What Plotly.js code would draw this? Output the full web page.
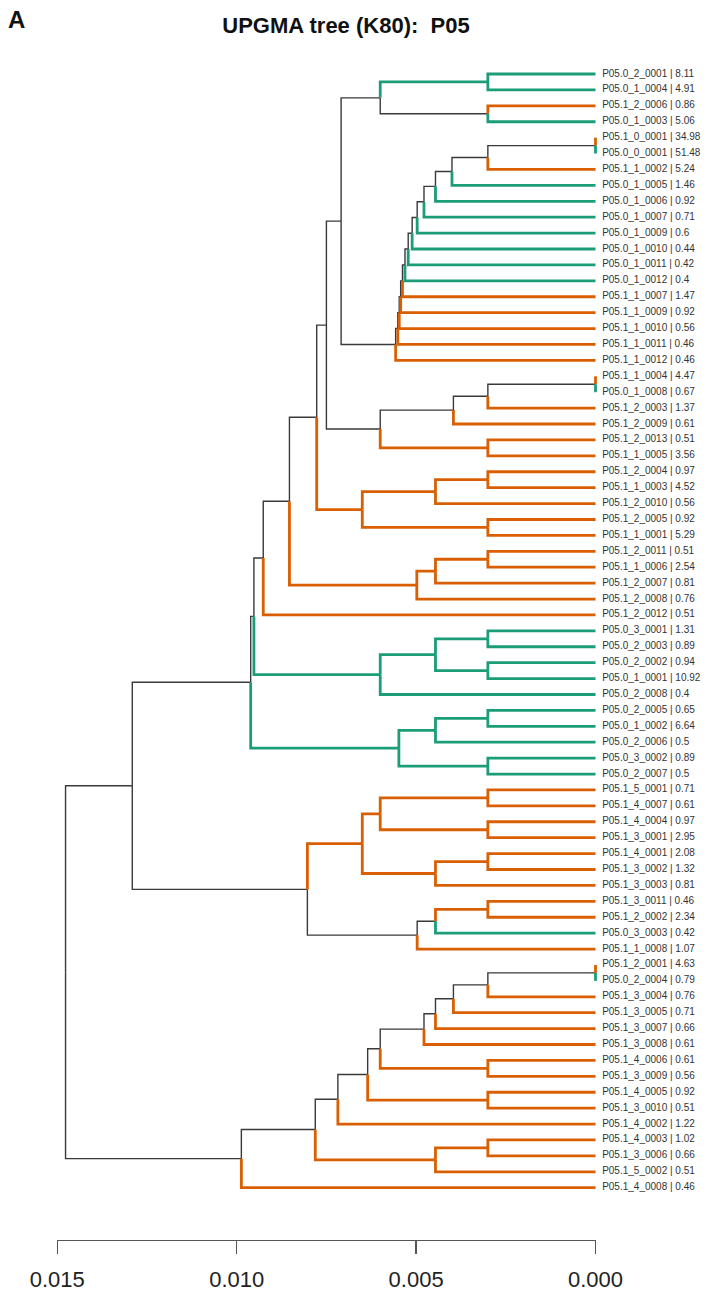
<!DOCTYPE html>
<html>
<head>
<meta charset="utf-8">
<script src="https://cdn.plot.ly/plotly-3.0.1.min.js"></script>
<style>html,body{margin:0;padding:0;background:#fff;}#chart{width:725px;height:1296px;}</style>
</head>
<body>
<div id="chart"></div>
<script>
// ---- Data ----
const sampleIds = [
 "P05.0_2_0001","P05.0_1_0004","P05.1_2_0006","P05.0_1_0003","P05.1_0_0001","P05.0_0_0001","P05.1_1_0002",
 "P05.0_1_0005","P05.0_1_0006","P05.0_1_0007","P05.0_1_0009","P05.0_1_0010","P05.0_1_0011","P05.0_1_0012",
 "P05.1_1_0007","P05.1_1_0009","P05.1_1_0010","P05.1_1_0011","P05.1_1_0012","P05.1_1_0004","P05.0_1_0008",
 "P05.1_2_0003","P05.1_2_0009","P05.1_2_0013","P05.1_1_0005","P05.1_2_0004","P05.1_1_0003","P05.1_2_0010",
 "P05.1_2_0005","P05.1_1_0001","P05.1_2_0011","P05.1_1_0006","P05.1_2_0007","P05.1_2_0008","P05.1_2_0012",
 "P05.0_3_0001","P05.0_2_0003","P05.0_2_0002","P05.0_1_0001","P05.0_2_0008","P05.0_2_0005","P05.0_1_0002",
 "P05.0_2_0006","P05.0_3_0002","P05.0_2_0007","P05.1_5_0001","P05.1_4_0007","P05.1_4_0004","P05.1_3_0001",
 "P05.1_4_0001","P05.1_3_0002","P05.1_3_0003","P05.1_3_0011","P05.1_2_0002","P05.0_3_0003","P05.1_1_0008",
 "P05.1_2_0001","P05.0_2_0004","P05.1_3_0004","P05.1_3_0005","P05.1_3_0007","P05.1_3_0008","P05.1_4_0006",
 "P05.1_3_0009","P05.1_4_0005","P05.1_3_0010","P05.1_4_0002","P05.1_4_0003","P05.1_3_0006","P05.1_5_0002",
 "P05.1_4_0008"
];
const abundance = [
 "8.11","4.91","0.86","5.06","34.98","51.48","5.24",
 "1.46","0.92","0.71","0.6","0.44","0.42","0.4",
 "1.47","0.92","0.56","0.46","0.46","4.47","0.67",
 "1.37","0.61","0.51","3.56","0.97","4.52","0.56",
 "0.92","5.29","0.51","2.54","0.81","0.76","0.51",
 "1.31","0.89","0.94","10.92","0.4","0.65","6.64",
 "0.5","0.89","0.5","0.71","0.61","0.97","2.95",
 "2.08","1.32","0.81","0.46","2.34","0.42","1.07",
 "4.63","0.79","0.76","0.71","0.66","0.61","0.61",
 "0.56","0.92","0.51","1.22","1.02","0.66","0.51",
 "0.46"
];
// hclust-style merges: negative = leaf (1-based order above), positive = earlier merge row (1-based)
const mergeA = [-1,-3,1,-5,4,5,6,7,8,9,10,11,12,13,14,15,16,3,-20,19,20,-24,21,18,-26,25,-29,26,24,-31,30,31,29,33,-36,-38,35,37,34,-41,40,-44,41,39,-46,-48,45,-50,48,47,-53,51,52,50,44,-57,56,57,58,59,-63,60,-65,62,64,-68,66,65,68,55];
const mergeB = [-2,-4,2,-6,-7,-8,-9,-10,-11,-12,-13,-14,-15,-16,-17,-18,-19,17,-21,-22,-23,-25,22,23,-27,-28,-30,27,28,-32,-33,-34,32,-35,-37,-39,36,-40,38,-42,-43,-45,42,43,-47,-49,46,-51,-52,49,-54,-55,-56,53,54,-58,-59,-60,-61,-62,-64,61,-66,63,-67,-69,-70,67,-71,69];
const mergeHeight = [0.0030,0.0030,0.0060,0.0000,0.0030,0.0040,0.00446,0.00478,0.00497,0.00511,0.00522,0.00531,0.00538,0.00543,0.00547,0.00551,0.00557,0.00709,0.0000,0.0030,0.00396,0.0030,0.0060,0.0075,0.0030,0.00446,0.0030,0.0065,0.00777,0.0030,0.00446,0.00498,0.00853,0.00926,0.0030,0.0030,0.00446,0.0060,0.00952,0.0030,0.00446,0.0030,0.00548,0.00961,0.0030,0.0030,0.0060,0.0030,0.00446,0.0065,0.0030,0.00446,0.00497,0.00803,0.01291,0.0000,0.0030,0.00396,0.00446,0.00478,0.0030,0.0060,0.0030,0.00635,0.00718,0.0030,0.00446,0.00781,0.00987,0.01477];
const axisTicks = [0.015, 0.010, 0.005, 0.000];
const axisTickText = ["0.015", "0.010", "0.005", "0.000"];

// ---- Styles ----
const GREEN = "#1b9e77", ORANGE = "#d95f02", BLACK = "#3a3a3a";

// ---- Build tree geometry ----
const nodeY = [], nodeH = [], nodeGroup = [];
function info(ref) {
  if (ref < 0) {
    const i = -ref - 1;
    return {y: i + 1, h: 0, g: sampleIds[i].startsWith("P05.0") ? "0" : "1"};
  }
  return {y: nodeY[ref - 1], h: nodeH[ref - 1], g: nodeGroup[ref - 1]};
}
const segs = {black: {x: [], y: []}, green: {x: [], y: []}, orange: {x: [], y: []}};
for (let k = 0; k < mergeA.length; k++) {
  const a = info(mergeA[k]), b = info(mergeB[k]);
  const h = mergeHeight[k];
  const y = (a.y + b.y) / 2;
  nodeY.push(y); nodeH.push(h);
  nodeGroup.push(a.g === b.g ? a.g : "mix");
  [a, b].forEach(c => {
    const key = c.g === "0" ? "green" : (c.g === "1" ? "orange" : "black");
    segs[key].x.push(h, h, c.h, null);
    segs[key].y.push(y, c.y, c.y, null);
  });
}

const leafY = sampleIds.map((_, i) => i + 1);
const leafX = sampleIds.map(() => 0);
const leafText = sampleIds.map((s, i) => s + " | " + abundance[i]);

const traces = [
  {x: segs.black.x, y: segs.black.y, mode: "lines", line: {color: BLACK, width: 1.4}, hoverinfo: "skip"},
  {x: segs.orange.x, y: segs.orange.y, mode: "lines", line: {color: ORANGE, width: 2.8}, hoverinfo: "skip"},
  {x: segs.green.x, y: segs.green.y, mode: "lines", line: {color: GREEN, width: 2.8}, hoverinfo: "skip"},
  {x: leafX, y: leafY, text: leafText, mode: "markers+text", textposition: "middle right",
   marker: {size: 9, opacity: 0}, textfont: {family: "Liberation Sans, Arial, sans-serif", size: 10, color: "#333"}, hoverinfo: "skip"},
  {x: axisTicks, y: axisTicks.map(() => null), xaxis: "x2", yaxis: "y", mode: "lines", hoverinfo: "skip"}
];

// pixel mapping: value 0 at x=595.5px, 0.005 per 179.4px; leaf 1 at y=74px, 15.91px per leaf
const W = 725, H = 1296;
const pxPerUnit = 35880, x0px = 595.5;
const xr = [x0px / pxPerUnit, (x0px - W) / pxPerUnit];
const rowPx = 15.91, y1px = 74;
const yr = [1 + (H - y1px) / rowPx, 1 - y1px / rowPx];

const layout = {
  width: W, height: H,
  margin: {l: 0, r: 0, t: 0, b: 0},
  paper_bgcolor: "#fff", plot_bgcolor: "rgba(0,0,0,0)",
  showlegend: false,
  font: {family: "Liberation Sans, Arial, sans-serif"},
  title: {text: "UPGMA tree (K80):\u00a0\u00a0P05", x: 346 / W, xanchor: "center", y: 1 - 25 / H, yanchor: "middle",
          font: {size: 22, weight: "bold", color: "#111", family: "Liberation Sans, Arial, sans-serif"}},
  xaxis: {range: xr, visible: false, fixedrange: true},
  yaxis: {range: yr, visible: false, fixedrange: true},
  xaxis2: {
    domain: [(x0px - 0.015 * pxPerUnit) / W, x0px / W], range: [0.015, 0],
    anchor: "free", position: (H - 1240) / H, side: "bottom",
    showline: true, linecolor: "#555", linewidth: 1.3,
    ticks: "outside", ticklen: 13, tickwidth: 1.3, tickcolor: "#555",
    ticklabelstandoff: 6,
    tickmode: "array", tickvals: axisTicks, ticktext: axisTickText,
    tickfont: {size: 22, color: "#222", family: "Liberation Sans, Arial, sans-serif"},
    showgrid: false, zeroline: false, fixedrange: true
  },
  annotations: [
    {text: "A", xref: "paper", yref: "paper", x: 6 / W, y: 1 - 19 / H, xanchor: "left", yanchor: "middle",
     showarrow: false, font: {size: 24, weight: "bold", color: "#111"}}
  ]
};

Plotly.newPlot("chart", traces, layout, {staticPlot: true, displayModeBar: false});
</script>
</body>
</html>
